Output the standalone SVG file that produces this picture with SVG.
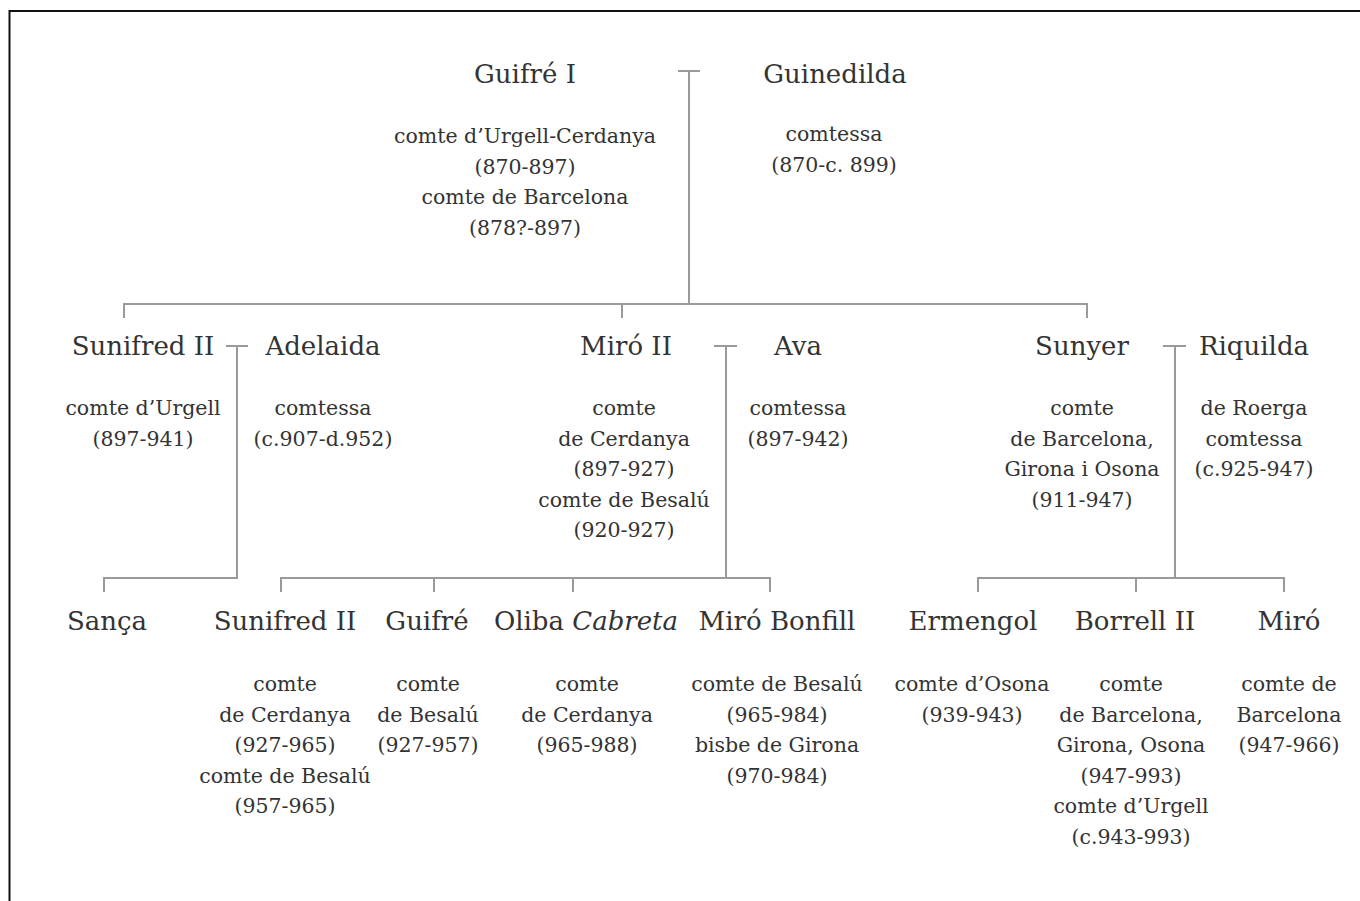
<svg xmlns="http://www.w3.org/2000/svg" width="1360" height="901" viewBox="0 0 1360 901">
<style>
.name{font-family:"DejaVu Serif","Liberation Serif",serif;font-size:26px;fill:#333;text-anchor:middle}
.det{font-family:"DejaVu Serif","Liberation Serif",serif;font-size:20.5px;fill:#333;text-anchor:middle}
.ln{stroke:#9a9a9a;stroke-width:2;fill:none}
.fr{stroke:#111;stroke-width:2;fill:none}
</style>
<rect width="1360" height="901" fill="#fff"/>
<path class="fr" d="M9.5 901V11H1360"/>
<g id="connectors">
<path class="ln" d="M678 71H700M689 71V304M124 318V304H1087V318M622 304V318"/>
<path class="ln" d="M226 346H248M237 346V578H104V592"/>
<path class="ln" d="M714 346H737M726 346V578M281 592V578H770V592M434 578V592M573 578V592"/>
<path class="ln" d="M1163 346H1186M1175 346V578M978 592V578H1284V592M1136 578V592"/>
</g>
<g id="guifre1"><text class="name" x="525" y="83">Guifré I</text>
<text class="det" x="525" y="143">comte d’Urgell-Cerdanya</text>
<text class="det" x="525" y="174">(870-897)</text>
<text class="det" x="525" y="204">comte de Barcelona</text>
<text class="det" x="525" y="235">(878?-897)</text></g>
<g id="guinedilda"><text class="name" x="835" y="83">Guinedilda</text>
<text class="det" x="834" y="141">comtessa</text>
<text class="det" x="834" y="172">(870-c. 899)</text></g>
<g id="sunifred2"><text class="name" x="143" y="355">Sunifred II</text>
<text class="det" x="143" y="415">comte d’Urgell</text>
<text class="det" x="143" y="446">(897-941)</text></g>
<g id="adelaida"><text class="name" x="323" y="355">Adelaida</text>
<text class="det" x="323" y="415">comtessa</text>
<text class="det" x="323" y="446">(c.907-d.952)</text></g>
<g id="miro2"><text class="name" x="626" y="355">Miró II</text>
<text class="det" x="624" y="415">comte</text>
<text class="det" x="624" y="446">de Cerdanya</text>
<text class="det" x="624" y="476">(897-927)</text>
<text class="det" x="624" y="507">comte de Besalú</text>
<text class="det" x="624" y="537">(920-927)</text></g>
<g id="ava"><text class="name" x="798" y="355">Ava</text>
<text class="det" x="798" y="415">comtessa</text>
<text class="det" x="798" y="446">(897-942)</text></g>
<g id="sunyer"><text class="name" x="1082" y="355">Sunyer</text>
<text class="det" x="1082" y="415">comte</text>
<text class="det" x="1082" y="446">de Barcelona,</text>
<text class="det" x="1082" y="476">Girona i Osona</text>
<text class="det" x="1082" y="507">(911-947)</text></g>
<g id="riquilda"><text class="name" x="1254" y="355">Riquilda</text>
<text class="det" x="1254" y="415">de Roerga</text>
<text class="det" x="1254" y="446">comtessa</text>
<text class="det" x="1254" y="476">(c.925-947)</text></g>
<g id="sanca"><text class="name" x="107" y="630">Sança</text></g>
<g id="sunifred2b"><text class="name" x="285" y="630">Sunifred II</text>
<text class="det" x="285" y="691">comte</text>
<text class="det" x="285" y="722">de Cerdanya</text>
<text class="det" x="285" y="752">(927-965)</text>
<text class="det" x="285" y="783">comte de Besalú</text>
<text class="det" x="285" y="813">(957-965)</text></g>
<g id="guifre"><text class="name" x="427" y="630">Guifré</text>
<text class="det" x="428" y="691">comte</text>
<text class="det" x="428" y="722">de Besalú</text>
<text class="det" x="428" y="752">(927-957)</text></g>
<g id="oliba"><text class="name" x="586" y="630">Oliba <tspan font-style="italic">Cabreta</tspan></text>
<text class="det" x="587" y="691">comte</text>
<text class="det" x="587" y="722">de Cerdanya</text>
<text class="det" x="587" y="752">(965-988)</text></g>
<g id="mirobonfill"><text class="name" x="777" y="630">Miró Bonfill</text>
<text class="det" x="777" y="691">comte de Besalú</text>
<text class="det" x="777" y="722">(965-984)</text>
<text class="det" x="777" y="752">bisbe de Girona</text>
<text class="det" x="777" y="783">(970-984)</text></g>
<g id="ermengol"><text class="name" x="973" y="630">Ermengol</text>
<text class="det" x="972" y="691">comte d’Osona</text>
<text class="det" x="972" y="722">(939-943)</text></g>
<g id="borrell2"><text class="name" x="1135" y="630">Borrell II</text>
<text class="det" x="1131" y="691">comte</text>
<text class="det" x="1131" y="722">de Barcelona,</text>
<text class="det" x="1131" y="752">Girona, Osona</text>
<text class="det" x="1131" y="783">(947-993)</text>
<text class="det" x="1131" y="813">comte d’Urgell</text>
<text class="det" x="1131" y="844">(c.943-993)</text></g>
<g id="miro"><text class="name" x="1289" y="630">Miró</text>
<text class="det" x="1289" y="691">comte de</text>
<text class="det" x="1289" y="722">Barcelona</text>
<text class="det" x="1289" y="752">(947-966)</text></g>
</svg>
